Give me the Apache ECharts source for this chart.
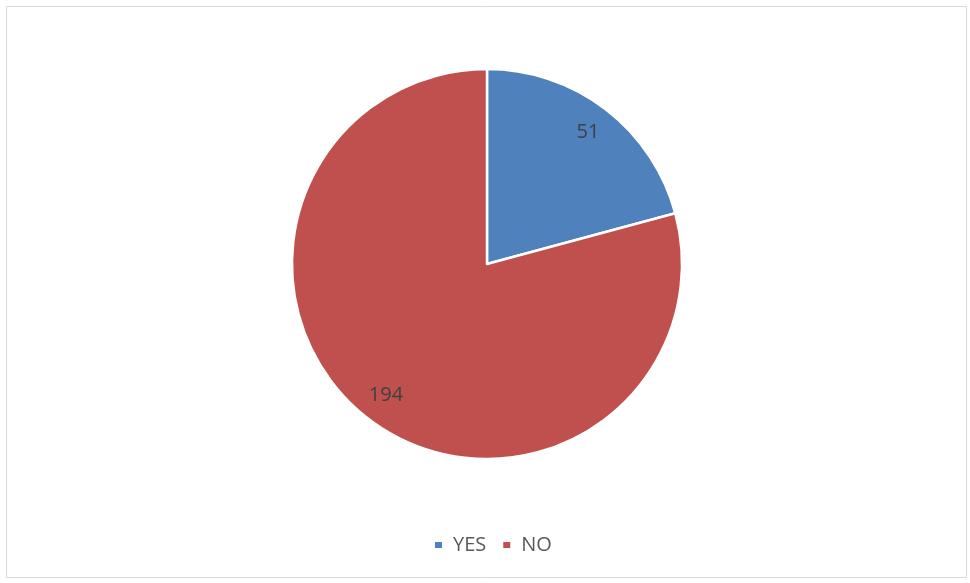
<!DOCTYPE html>
<html>
<head>
<meta charset="utf-8">
<script src="https://cdn.jsdelivr.net/npm/echarts@6/dist/echarts.min.js"></script>
<style>
  html, body { margin: 0; padding: 0; background: #fff; }
  #chart { width: 970px; height: 583px; }
</style>
</head>
<body>
<div id="chart"></div>
<script>
const categories = ["YES", "NO"];
const counts = [51, 194];
const colors = ["#4F81BD", "#C0504D"];

const chart = echarts.init(document.getElementById("chart"));

const pieData = categories.map((name, i) => ({
  name: name,
  value: counts[i],
  itemStyle: { color: colors[i] }
}));

// transparent ring only used to place labels further out than "inside" allows
const labelData = categories.map((name, i) => ({
  name: name,
  value: counts[i],
  itemStyle: { color: "transparent" }
}));

chart.setOption({
  animation: false,
  graphic: [{
    type: "rect",
    shape: { x: 6.5, y: 6.5, width: 960, height: 571 },
    style: { fill: "none", stroke: "#D9D9D9", lineWidth: 1 },
    silent: true
  }],
  legend: {
    data: categories,
    top: 530,
    left: 428,
    icon: "rect",
    itemWidth: 9,
    itemHeight: 8,
    itemGap: 15,
    textStyle: {
      color: "#595959",
      fontSize: 20,
      fontFamily: "Open Sans",
      padding: [0, 0, 0, 5]
    }
  },
  series: [
    {
      name: "main",
      type: "pie",
      center: [487, 264],
      radius: [0, 195],
      startAngle: 90,
      clockwise: true,
      label: { show: false },
      labelLine: { show: false },
      itemStyle: { borderColor: "#fff", borderWidth: 2.5 },
      emphasis: { disabled: true },
      data: pieData
    },
    {
      name: "labels",
      type: "pie",
      center: [487, 264],
      radius: [131, 195],
      startAngle: 90,
      clockwise: true,
      silent: true,
      legendHoverLink: false,
      label: {
        show: true,
        position: "inside",
        formatter: "{c}",
        color: "#404040",
        fontSize: 20,
        fontFamily: "Open Sans"
      },
      labelLine: { show: false },
      emphasis: { disabled: true },
      data: labelData
    }
  ]
});
</script>
</body>
</html>
